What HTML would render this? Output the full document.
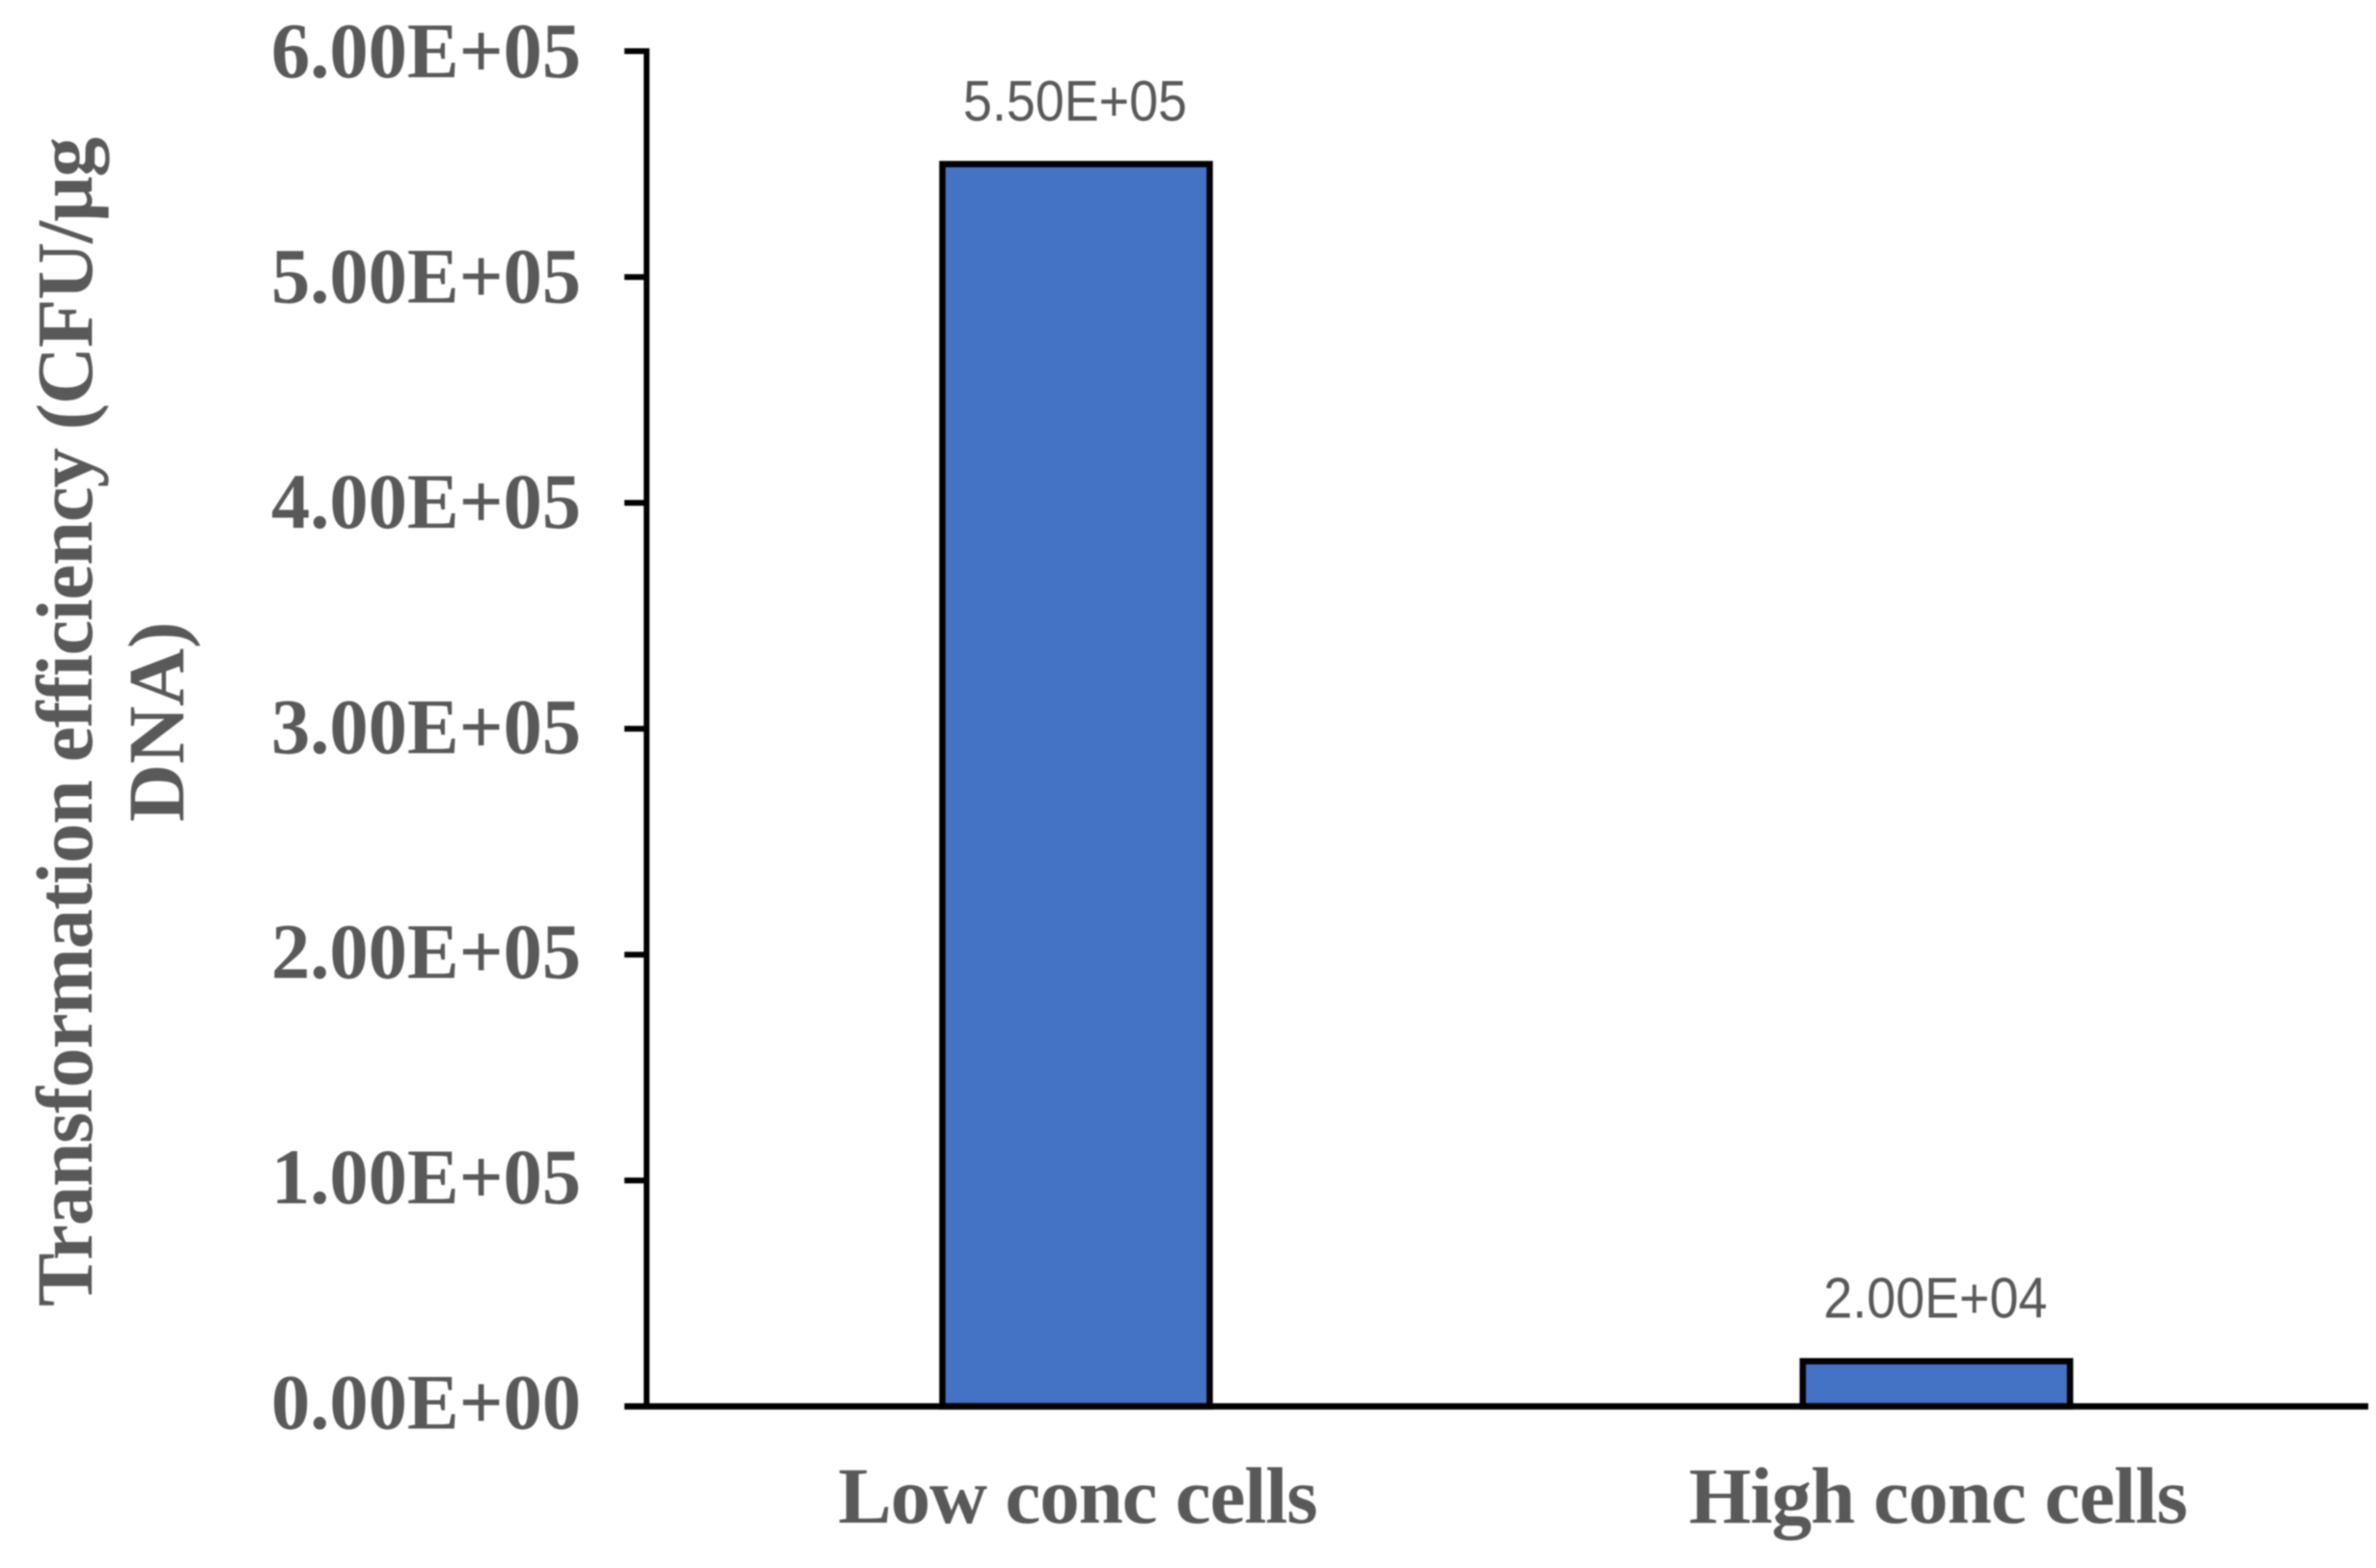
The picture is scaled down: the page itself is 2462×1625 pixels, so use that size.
<!DOCTYPE html>
<html>
<head>
<meta charset="utf-8">
<title>Transformation efficiency chart</title>
<style>
html,body{margin:0;padding:0;background:#fff;width:2462px;height:1625px;overflow:hidden}
svg{display:block;filter:blur(0.8px)}
text{font-family:"Liberation Serif",serif;font-weight:bold;fill:#595959}
.data{font-family:"Liberation Sans",sans-serif;font-weight:normal}
</style>
</head>
<body>
<svg id="chart" xmlns="http://www.w3.org/2000/svg" width="2462" height="1625" viewBox="0 0 2462 1625">
  <rect width="2462" height="1625" fill="#fff"/>
  <text transform="translate(95 748) rotate(-90)" text-anchor="middle" font-size="83" textLength="1212" lengthAdjust="spacing">Transformation efficiency (CFU/µg</text>
  <text transform="translate(190 748) rotate(-90)" text-anchor="middle" font-size="83">DNA)</text>
</svg>
<script>
const categories = ["Low conc cells", "High conc cells"];
const seriesValues = [550000, 20000];
const valueLabels = ["5.50E+05", "2.00E+04"];
const tickValues = [0, 100000, 200000, 300000, 400000, 500000, 600000];
const tickLabels = ["0.00E+00", "1.00E+05", "2.00E+05", "3.00E+05", "4.00E+05", "5.00E+05", "6.00E+05"];

const NS = "http://www.w3.org/2000/svg";
const svg = document.getElementById("chart");
const plot = { left: 670, right: 2454, top: 53, bottom: 1457.5 };
const yMax = 600000;
const bandWidth = 891.5;
const barWidth = 277;

function yScale(v) { return plot.bottom - (v / yMax) * (plot.bottom - plot.top); }
function xBand(i) { return plot.left + bandWidth * (i + 0.5) - 0.75; }

function make(tag, attrs, txt) {
  const el = document.createElementNS(NS, tag);
  for (const k in attrs) el.setAttribute(k, attrs[k]);
  if (txt !== undefined) el.textContent = txt;
  svg.appendChild(el);
  return el;
}

tickValues.forEach(function (v, i) {
  const y = yScale(v);
  const tick = make("line", { x1: plot.left - 23, x2: plot.left, y1: y, y2: y, stroke: "#000", "stroke-width": 6 });
  
  
  const label = make("text", { x: 602, y: y + 23 + 4 * (v / yMax), "text-anchor": "end", "font-size": 82, textLength: 321, lengthAdjust: "spacingAndGlyphs" }, tickLabels[i]);
  
  
});

categories.forEach(function (c, i) {
  const cx = xBand(i);
  const top = yScale(seriesValues[i]);
  const bar = make("rect", { x: cx - barWidth / 2, y: top, width: barWidth, height: plot.bottom - top, fill: "#4472C4", stroke: "#000", "stroke-width": 6.5 });
  
  
  const dl = make("text", { class: "data", x: cx - 1, y: top - 45, "text-anchor": "middle", "font-size": 59, textLength: 232, lengthAdjust: "spacingAndGlyphs" }, valueLabels[i]);
  
  
  const cat = make("text", { x: cx + 2, y: 1578, "text-anchor": "middle", "font-size": 83, textLength: i === 0 ? 497 : 517, lengthAdjust: "spacing" }, c);
  
  
});

const yAxis = make("line", { x1: plot.left, x2: plot.left, y1: plot.top - 3, y2: plot.bottom + 3, stroke: "#000", "stroke-width": 6 });


const xAxis = make("line", { x1: plot.left - 23, x2: plot.right, y1: plot.bottom, y2: plot.bottom, stroke: "#000", "stroke-width": 6.5 });


</script>
</body>
</html>
